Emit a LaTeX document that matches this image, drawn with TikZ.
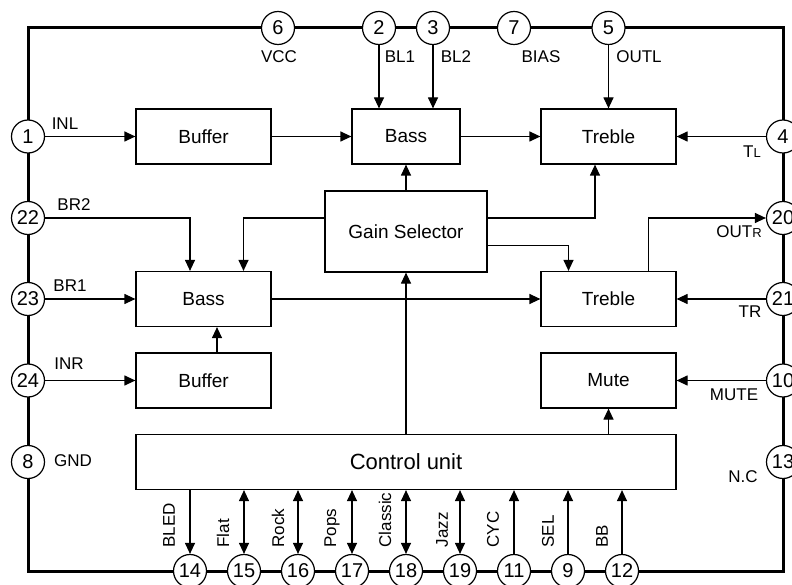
\documentclass[tikz,border=0pt]{standalone}
\usepackage{fontspec}
\setmainfont{Liberation Sans}
\usetikzlibrary{arrows.meta, calc}

\begin{document}
\begin{tikzpicture}[x=1pt, y=-1pt, line width=1.2pt, >={Triangle[length=11pt,width=10pt]},
    box/.style={draw, minimum width=135pt, minimum height=55pt, inner sep=0pt, font=\fontsize{19}{22}\selectfont},
    pin/.style={draw, circle, fill=white, minimum size=33pt, inner sep=0pt, font=\fontsize{20}{22}\selectfont},
    lab/.style={inner sep=0pt, font=\fontsize{17}{20}\selectfont},
    vlab/.style={lab, rotate=90, anchor=west}]
        \useasboundingbox (0,0) rectangle (792,585);
        \draw[line width=3pt] (28,28) rectangle (783,571);

        \node[pin] (P6) at (278,28) {6}; \node[pin] (P2) at (379,28) {2}; \node[pin] (P3) at (433,28) {3};
        \node[pin] (P7) at (514,28) {7}; \node[pin] (P5) at (608.5,28) {5};
        \node[pin] (P1) at (28,136.5) {1}; \node[pin] (P22) at (28,218) {22}; \node[pin] (P23) at (28,299) {23};
        \node[pin] (P24) at (28,380.5) {24}; \node[pin] (P8) at (28,462) {8};
        \node[pin] (P4) at (783,136.5) {4}; \node[pin] (P20) at (783,218) {20}; \node[pin] (P21) at (783,299) {21};
        \node[pin] (P10) at (783,380.5) {10}; \node[pin] (P13) at (783,462) {13};
        \node[pin] (P14) at (190,571) {14}; \node[pin] (P15) at (244,571) {15}; \node[pin] (P16) at (298,571) {16};
        \node[pin] (P17) at (352,571) {17}; \node[pin] (P18) at (406,571) {18}; \node[pin] (P19) at (460,571) {19};
        \node[pin] (P11) at (514,571) {11}; \node[pin] (P9) at (568,571) {9}; \node[pin] (P12) at (622,571) {12};

        \node[box] (BufL) at (203.5,136.5) {Buffer};
        \node[box, minimum width=108pt] (BassL) at (406,136.5) {Bass};
        \node[box] (TrebL) at (608.5,136.5) {Treble};
        \node[box, minimum width=162pt, minimum height=81pt] (Gain) at (406,231.5) {Gain Selector};
        \node[box] (BassR) at (203.5,299) {Bass};
        \node[box] (TrebR) at (608.5,299) {Treble};
        \node[box] (BufR) at (203.5,380.5) {Buffer};
        \node[box] (Mute) at (608.5,380.5) {Mute};
        \node[box, minimum width=540pt, font=\fontsize{22}{26}\selectfont] (Ctrl) at (406,462) {Control unit};

        \draw[->] (P1) -- (BufL); \draw[->] (BufL) -- (BassL); \draw[->] (BassL) -- (TrebL); \draw[->] (P4) -- (TrebL);
        \draw[->] (P2) -- (P2 |- BassL.north); \draw[->] (P3) -- (P3 |- BassL.north); \draw[->] (P5) -- (TrebL);
        \draw[->] (Gain) -- (BassL);
        \draw[->] ([yshift=13.5pt]Gain.east) -| ([xshift=-13.5pt]TrebL.south);
        \draw[->] ([yshift=-14pt]Gain.east) -| ([xshift=-40pt]TrebR.north);
        \draw[->] ([yshift=13.5pt]Gain.west) -| ([xshift=40pt]BassR.north);
        \draw[->] (P22) -| ([xshift=-13.5pt]BassR.north);
        \draw[->] (P23) -- (BassR); \draw[->] (BassR) -- (TrebR); \draw[->] (P21) -- (TrebR);
        \draw[->] ([xshift=40pt]TrebR.north) |- (P20);
        \draw[->] ([xshift=13.5pt]BufR.north) -- ([xshift=13.5pt]BassR.south);
        \draw[->] (P24) -- (BufR); \draw[->] (P10) -- (Mute);
        \draw[->] (Ctrl.north -| Mute) -- (Mute); \draw[->] (Ctrl) -- (Gain);

        \draw[->] (Ctrl.south -| P14) -- (P14);
        \draw[<->] (Ctrl.south -| P15) -- (P15); \draw[<->] (Ctrl.south -| P16) -- (P16);
        \draw[<->] (Ctrl.south -| P17) -- (P17); \draw[<->] (Ctrl.south -| P18) -- (P18);
        \draw[<->] (Ctrl.south -| P19) -- (P19);
        \draw[->] (P11) -- (P11 |- Ctrl.south); \draw[->] (P9) -- (P9 |- Ctrl.south); \draw[->] (P12) -- (P12 |- Ctrl.south);

        \node[lab] (lVCC) at (279,57) {VCC}; \node[lab] (lBL1) at (400,57) {BL1}; \node[lab] (lBL2) at (456,57) {BL2};
        \node[lab] (lBIAS) at (541,57) {BIAS}; \node[lab] (lOUTL) at (639,57) {OUTL};
        \node[lab] (lINL) at (65,124) {INL}; \node[lab] (lBR2) at (74,205) {BR2}; \node[lab] (lBR1) at (70,286) {BR1};
        \node[lab] (lINR) at (69,364) {INR}; \node[lab] (lGND) at (73,461) {GND};
        \node[lab] (lTL) at (752,152) {T{\fontsize{13}{13}\selectfont L}};
        \node[lab] (lOUTR) at (739,232) {OUT{\fontsize{13}{13}\selectfont R}};
        \node[lab] (lTR) at (750,312) {TR}; \node[lab] (lMUTE) at (734,395) {MUTE}; \node[lab] (lNC) at (743,477) {N.C};

        \node[vlab] (lBLED) at (169,548) {BLED}; \node[vlab] (lFlat) at (223,548) {Flat};
        \node[vlab] (lRock) at (278,548) {Rock}; \node[vlab] (lPops) at (332,548) {Pops};
        \node[vlab] (lClassic) at (385,548) {Classic}; \node[vlab] (lJazz) at (442,548) {Jazz};
        \node[vlab] (lCYC) at (493,548) {CYC}; \node[vlab] (lSEL) at (548,548) {SEL}; \node[vlab] (lBB) at (602,548) {BB};
\end{tikzpicture}
\end{document}
